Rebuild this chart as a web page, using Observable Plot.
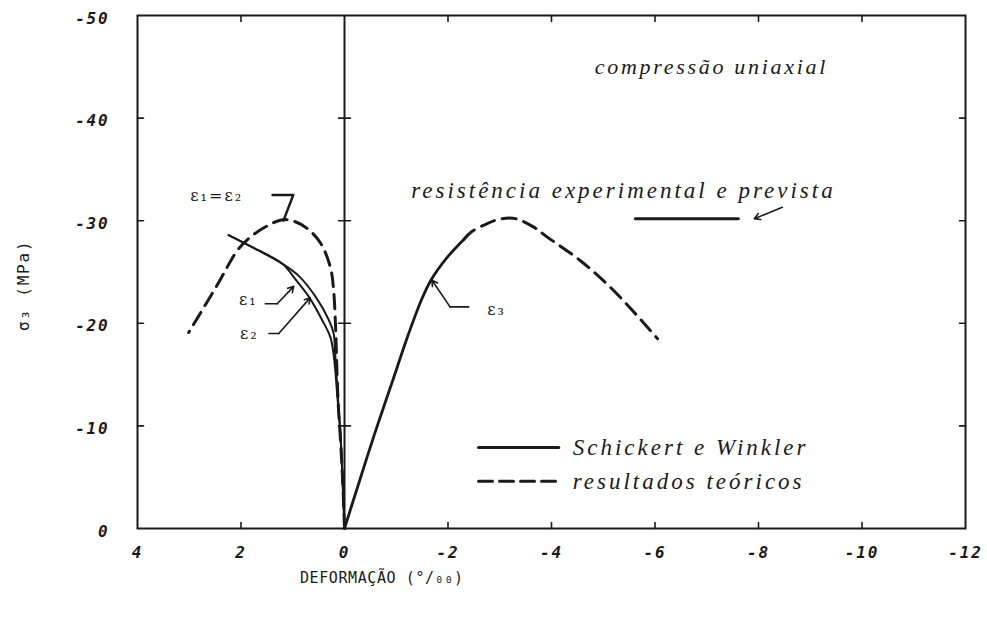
<!DOCTYPE html>
<html>
<head>
<meta charset="utf-8">
<script src="https://cdn.jsdelivr.net/npm/d3@7"></script>
<script src="https://cdn.jsdelivr.net/npm/@observablehq/plot@0.6"></script>
<style>
  body { margin: 0; background: #fff; }
  svg g[font-family="Liberation Serif"][font-size="22"] { letter-spacing: 2.7px; }
  svg g[font-family="Liberation Serif"][font-size="23"] { letter-spacing: 3px; }
  svg g[font-family="DejaVu Sans Mono"][font-style="italic"] { letter-spacing: 1.2px; }
  svg g[font-family="DejaVu Sans Mono"][font-size="15"] { letter-spacing: 0.6px; }
  svg g[font-family="DejaVu Sans Mono"][font-size="16"] { letter-spacing: 1.8px; }
  svg g[font-family="DejaVu Serif"] { letter-spacing: 2px; }
</style>
</head>
<body>
<div id="chart"></div>
<script>
// Axis ticks and titles
const xTicks = [4, 2, 0, -2, -4, -6, -8, -10, -12];
const yTicks = [0, -10, -20, -30, -40, -50];
const xTitle = "DEFORMAÇÃO (°/₀₀)";
const yTitle = "σ₃ (MPa)";

// Schickert e Winkler (measured): [strain ‰, stress MPa]
const swEps1 = [[2.24, -28.6], [1.66, -27.1], [1.20, -25.8], [0.88, -24.6], [0.56, -22.6], [0.30, -20.3], [0.21, -19.0], [0.18, -17.0], [0.13, -13.0], [0.08, -9.3], [0.04, -5.0], [0, 0]];
const swEps2 = [[2.24, -28.6], [1.66, -27.1], [1.20, -25.8], [0.95, -24.3], [0.69, -22.6], [0.43, -20.3], [0.27, -18.6], [0.20, -16.5], [0.14, -13.0], [0.08, -9.3], [0.04, -5.0], [0, 0]];
const swEps3 = [[0, 0], [-0.25, -4.0], [-0.58, -9.2], [-0.91, -14.1], [-1.24, -19.0], [-1.48, -22.2], [-1.67, -24.2], [-1.98, -26.4], [-2.31, -28.2]];

// resultados teóricos
const teoLateral = [[0, 0], [0.03, -4.0], [0.07, -8.0], [0.12, -12.0], [0.15, -16.0], [0.17, -19.3], [0.21, -23.2], [0.27, -25.4], [0.46, -27.8], [0.71, -29.2], [0.95, -29.9], [1.20, -30.1], [1.49, -29.5], [1.82, -28.4], [2.07, -27.1], [2.44, -23.9], [3.01, -19.1]];
const teoAxial = [[-2.31, -28.2], [-2.45, -28.9], [-2.75, -29.7], [-3.00, -30.15], [-3.30, -30.2], [-3.65, -29.4], [-3.92, -28.4], [-4.56, -26.1], [-5.20, -23.2], [-6.05, -18.5]];

// resistência experimental e prevista
const resistencia = [[-5.62, -30.2], [-7.61, -30.2]];

const ink = "#1a1a1a";
const pts = a => a.map(([x, y]) => ({x, y}));
const tickShape = {draw(context, l) { context.moveTo(0, 0); context.lineTo(0, -l); }};
const innerY = yTicks.filter(d => d !== 0 && d !== -50);
const innerX = xTicks.filter(d => d !== 4 && d !== -12 && d !== 0);
const xMin = xTicks[0], xMax = xTicks[xTicks.length - 1];
const yMax = yTicks[yTicks.length - 1];

const noteTitle = [{text: "compressão uniaxial", x: -7.09, y: -45.0}];
const noteStrength = [{text: "resistência experimental e prevista", x: -5.39, y: -32.9}];
const legendText = [
  {text: "Schickert e Winkler", x: -4.41, y: -7.9},
  {text: "resultados teóricos", x: -4.41, y: -4.6}
];
const epsLabels = [
  {text: "ε₁=ε₂", x: 2.47, y: -32.4},
  {text: "ε₁", x: 1.86, y: -22.3},
  {text: "ε₂", x: 1.84, y: -19.0},
  {text: "ε₃", x: -2.94, y: -21.3}
];
// leader lines: horizontal stub then arrow to the curve
const leaderStubs = [
  [[1.53, -21.9], [1.30, -21.9]],
  [[1.46, -19.0], [1.27, -19.0]],
  [[-2.40, -21.6], [-2.04, -21.6]]
];
const leaderArrows = [
  {x1: 1.30, y1: -21.9, x2: 0.98, y2: -23.6},
  {x1: 1.27, y1: -19.0, x2: 0.66, y2: -22.5},
  {x1: -2.04, y1: -21.6, x2: -1.69, y2: -24.2},
  {x1: -8.46, y1: -31.3, x2: -7.92, y2: -30.2}
];
const peakMark = [[1.39, -32.5], [0.99, -32.5], [1.18, -30.0]];

const chart = Plot.plot({
  width: 987,
  height: 622,
  marginLeft: 137,
  marginRight: 22,
  marginTop: 15,
  marginBottom: 94,
  x: {domain: [xMin, xMax]},
  y: {domain: [0, yMax]},
  style: {background: "#fff", color: ink},
  marks: [
    Plot.frame({stroke: ink, strokeWidth: 2}),
    Plot.ruleX([0], {stroke: ink, strokeWidth: 2}),
    // inward tick marks on all four sides and across the zero line
    Plot.vector(innerY, {x: xMin, y: d => d, rotate: 90, length: 6, anchor: "start", shape: tickShape, stroke: ink, strokeWidth: 1.6}),
    Plot.vector(innerY, {x: xMax, y: d => d, rotate: -90, length: 6, anchor: "start", shape: tickShape, stroke: ink, strokeWidth: 1.6}),
    Plot.vector(innerY, {x: 0, y: d => d, rotate: 90, length: 12, anchor: "middle", shape: tickShape, stroke: ink, strokeWidth: 1.6}),
    Plot.vector(innerX, {x: d => d, y: 0, rotate: 0, length: 6, anchor: "start", shape: tickShape, stroke: ink, strokeWidth: 1.6}),
    Plot.vector(innerX, {x: d => d, y: yMax, rotate: 180, length: 6, anchor: "start", shape: tickShape, stroke: ink, strokeWidth: 1.6}),
    Plot.axisX(xTicks, {tickSize: 0, tickPadding: 18, label: null, tickFormat: d => String(d), fontFamily: "DejaVu Sans Mono", fontStyle: "italic", fontWeight: "bold", fontSize: 16}),
    Plot.axisY(yTicks, {tickSize: 0, tickPadding: 28, dy: 3, label: null, tickFormat: d => String(d), fontFamily: "DejaVu Sans Mono", fontStyle: "italic", fontWeight: "bold", fontSize: 16}),
    Plot.text([xTitle], {text: d => d, x: -0.72, frameAnchor: "bottom", dy: 54, fontFamily: "DejaVu Sans Mono", fontSize: 15}),
    Plot.text([yTitle], {text: d => d, x: xMin, y: -23.7, rotate: -90, dx: -114, fontFamily: "DejaVu Sans Mono", fontSize: 16}),

    // curves
    Plot.line(pts(teoLateral), {x: "x", y: "y", curve: "catmull-rom", stroke: ink, strokeWidth: 3, strokeDasharray: "14,8"}),
    Plot.line(pts(teoAxial), {x: "x", y: "y", curve: "catmull-rom", stroke: ink, strokeWidth: 3, strokeDasharray: "14,8"}),
    Plot.line(pts(swEps1), {x: "x", y: "y", curve: "catmull-rom", stroke: ink, strokeWidth: 2}),
    Plot.line(pts(swEps2), {x: "x", y: "y", curve: "catmull-rom", stroke: ink, strokeWidth: 2}),
    Plot.line(pts(swEps3), {x: "x", y: "y", curve: "catmull-rom", stroke: ink, strokeWidth: 2.8}),
    Plot.line(pts(resistencia), {x: "x", y: "y", stroke: ink, strokeWidth: 3}),

    // annotations
    Plot.line(pts(peakMark), {x: "x", y: "y", stroke: ink, strokeWidth: 2.4}),
    ...leaderStubs.map(s => Plot.line(pts(s), {x: "x", y: "y", stroke: ink, strokeWidth: 1.6})),
    Plot.arrow(leaderArrows, {x1: "x1", y1: "y1", x2: "x2", y2: "y2", stroke: ink, strokeWidth: 1.6, headLength: 6}),
    Plot.text(noteTitle, {x: "x", y: "y", text: "text", fontFamily: "Liberation Serif", fontStyle: "italic", fontSize: 22, fill: ink}),
    Plot.text(noteStrength, {x: "x", y: "y", text: "text", fontFamily: "Liberation Serif", fontStyle: "italic", fontSize: 23, fill: ink}),
    Plot.text(legendText, {x: "x", y: "y", text: "text", textAnchor: "start", fontFamily: "Liberation Serif", fontStyle: "italic", fontSize: 23, fill: ink}),
    Plot.text(epsLabels, {x: "x", y: "y", text: "text", fontFamily: "DejaVu Serif", fontSize: 16, fill: ink}),

    // legend samples
    Plot.line(pts([[-2.59, -7.9], [-4.14, -7.9]]), {x: "x", y: "y", stroke: ink, strokeWidth: 3}),
    Plot.line(pts([[-2.59, -4.6], [-4.14, -4.6]]), {x: "x", y: "y", stroke: ink, strokeWidth: 3, strokeDasharray: "14,7"})
  ]
});
document.getElementById("chart").append(chart);
</script>
</body>
</html>
